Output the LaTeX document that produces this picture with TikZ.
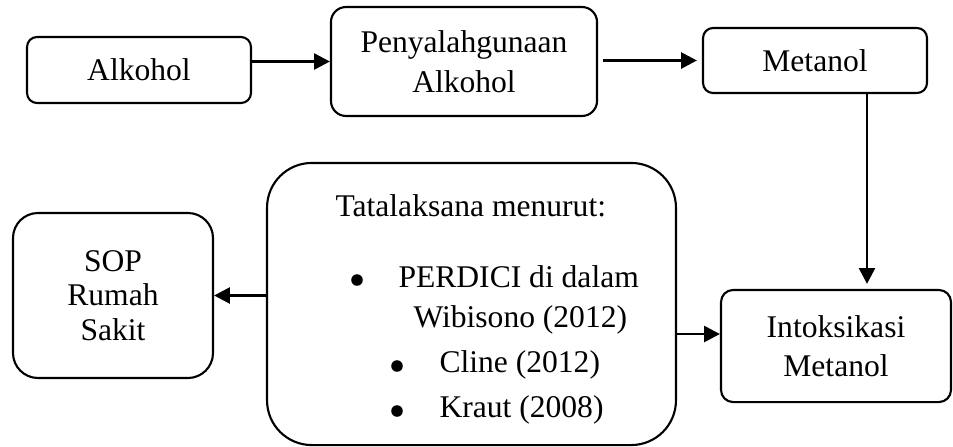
\documentclass[tikz,border=0pt]{standalone}
\usepackage{fontspec}
\setmainfont{Liberation Serif}
\usetikzlibrary{arrows.meta}
\begin{document}
\begin{tikzpicture}[x=0.38pt,y=-0.38pt,
  box/.style={draw,line width=0.8pt,align=center,inner sep=0pt,
    font=\fontsize{12}{15}\selectfont},
  txt/.style={inner sep=0pt,font=\fontsize{12}{15}\selectfont},
  bul/.style={circle,fill,inner sep=0pt,minimum size=4.4pt},
  arr/.style={line width=1.1pt,-{Triangle[length=6pt,width=6pt]}}]
\useasboundingbox (0,0) rectangle (953,446);
\node[box,rounded corners=3.8pt,minimum width=85.1pt,minimum height=25.1pt] (alk) at (139,70) {Alkohol};
\node[box,rounded corners=5.7pt,minimum width=101.1pt,minimum height=41.4pt] (pen) at (464,61.5) {Penyalahgunaan\\Alkohol};
\node[box,rounded corners=3.8pt,minimum width=85.1pt,minimum height=24.7pt] (met) at (815,60.5) {Metanol};
\node[box,rounded corners=4.6pt,minimum width=87.4pt,minimum height=42.6pt] (int) at (836,346) {Intoksikasi\\Metanol};
\node[box,rounded corners=17pt,minimum width=155.4pt,minimum height=107.2pt] (tat) at (471.5,304) {};
\node[box,rounded corners=9.5pt,minimum width=76pt,minimum height=62.7pt,font=\fontsize{12}{13}\selectfont] (sop) at (113,295.5) {SOP\\Rumah\\Sakit};
% text inside Tatalaksana box
\node[txt,anchor=base west] (t0) at (335,216) {Tatalaksana menurut:};
\node[bul] (b1) at (357,280) {};
\node[txt,anchor=base west] (t1) at (398,287) {PERDICI di dalam};
\node[txt,anchor=base west] (t2) at (413,327) {Wibisono (2012)};
\node[bul] (b2) at (397,366) {};
\node[txt,anchor=base west] (t3) at (439,372) {Cline (2012)};
\node[bul] (b3) at (397,411) {};
\node[txt,anchor=base west] (t4) at (439,417) {Kraut (2008)};
% helper coordinates
\coordinate (vx) at (867,0);
\coordinate (ty) at (0,334);
% connectors
\draw[arr] (alk.east |- pen.west) -- (pen.west);
\draw[arr,shorten <=1.9pt,shorten >=1.9pt] (pen.east |- met.west) -- (met.west);
\draw[arr,shorten >=1.9pt] (met.south -| vx) -- (int.north -| vx);
\draw[arr] (tat.east |- ty) -- (int.west |- ty);
\draw[arr] (sop.east -| tat.west) -- (sop.east);
\end{tikzpicture}
\end{document}
